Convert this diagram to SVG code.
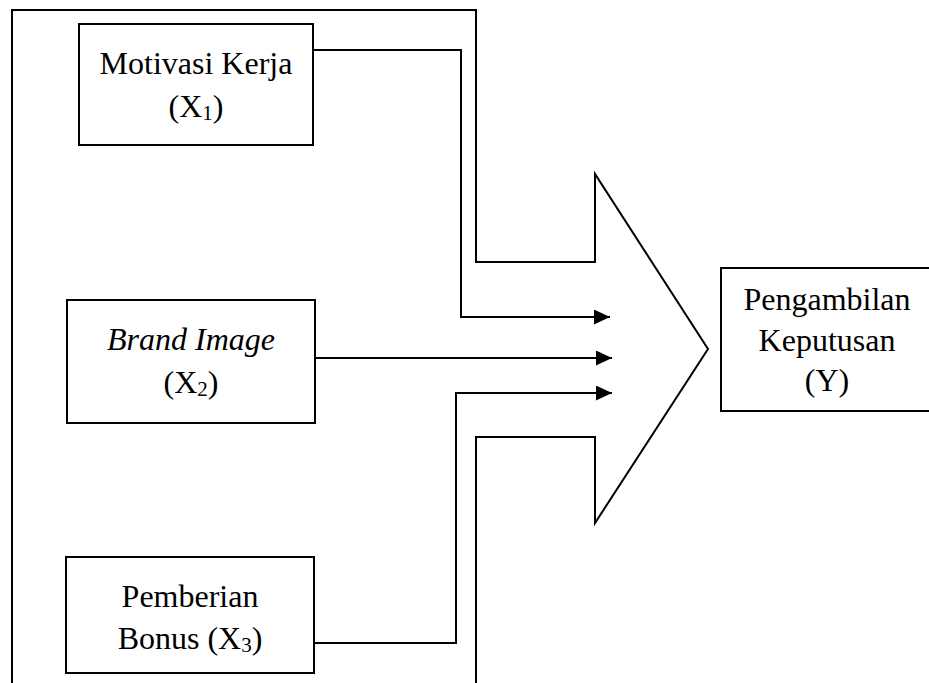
<svg xmlns="http://www.w3.org/2000/svg" width="929" height="683" viewBox="0 0 929 683">
  <style>
    .box { fill: #ffffff; stroke: #000000; stroke-width: 2; }
    .shape { fill: none; stroke: #000000; stroke-width: 2; stroke-linejoin: miter; }
    .conn { fill: none; stroke: #000000; stroke-width: 2; }
    .lbl { font-family: "Liberation Serif", "Times New Roman", serif; font-size: 32px; fill: #000000; text-anchor: middle; }
    .it { font-style: italic; }
  </style>
  <defs>
    <marker id="arrow" markerUnits="userSpaceOnUse" markerWidth="17" markerHeight="16" refX="16" refY="7.5" orient="auto">
      <path d="M0,0 L16,7.5 L0,15 Z" fill="#000000"/>
    </marker>
  </defs>
  <rect width="929" height="683" fill="#ffffff"/>

  <g id="big-arrow">
    <polyline class="shape" points="12,690 12,10 476,10 476,262 595,262 595,174 708,349 595,523 595,437 476,437 476,690"/>
  </g>

  <g id="connectors">
    <polyline class="conn" points="313,50 461,50 461,317 610,317" marker-end="url(#arrow)"/>
    <polyline class="conn" points="315,358 612,358" marker-end="url(#arrow)"/>
    <polyline class="conn" points="314,643 456,643 456,393 612,393" marker-end="url(#arrow)"/>
  </g>

  <g id="node-x1">
    <rect class="box" x="79" y="24" width="234" height="121"/>
    <text class="lbl" x="196" y="74">Motivasi Kerja</text>
    <text class="lbl" x="196" y="117">(X<tspan font-size="21" dy="3">1</tspan><tspan dy="-3">)</tspan></text>
  </g>

  <g id="node-x2">
    <rect class="box" x="67" y="300" width="248" height="123"/>
    <text class="lbl it" x="191" y="350">Brand Image</text>
    <text class="lbl" x="191" y="393">(X<tspan font-size="21" dy="3">2</tspan><tspan dy="-3">)</tspan></text>
  </g>

  <g id="node-x3">
    <rect class="box" x="66" y="557" width="248" height="116"/>
    <text class="lbl" x="190" y="607">Pemberian</text>
    <text class="lbl" x="190" y="649">Bonus (X<tspan font-size="21" dy="3">3</tspan><tspan dy="-3">)</tspan></text>
  </g>

  <g id="node-y">
    <rect class="box" x="721" y="268" width="214" height="143"/>
    <text class="lbl" x="827" y="310">Pengambilan</text>
    <text class="lbl" x="827" y="351">Keputusan</text>
    <text class="lbl" x="827" y="391">(Y)</text>
  </g>
</svg>
